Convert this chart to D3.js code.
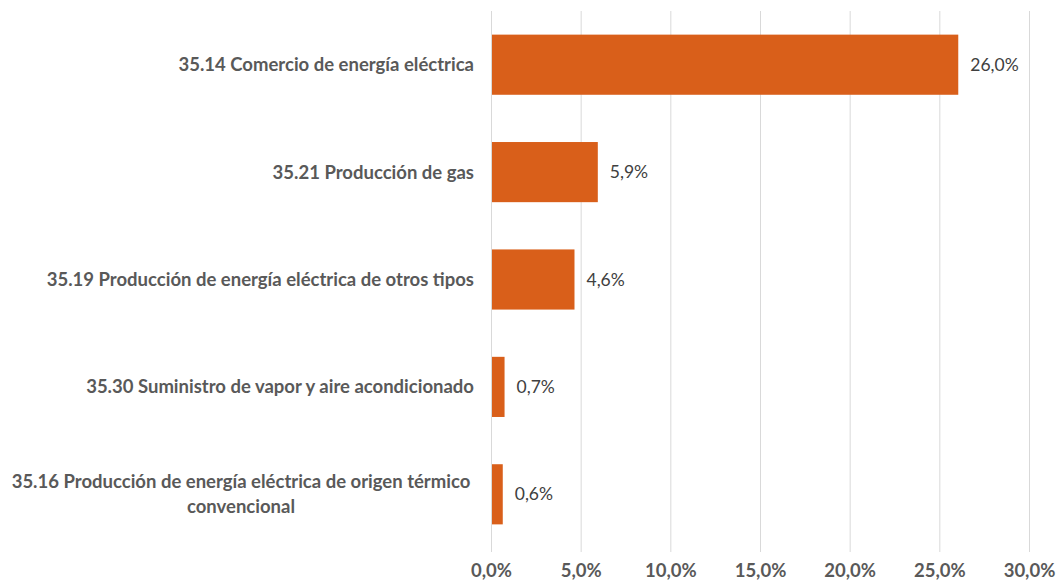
<!DOCTYPE html>
<html>
<head>
<meta charset="utf-8">
<script src="https://cdn.jsdelivr.net/npm/d3@7"></script>
<style>
  body { margin: 0; background: #fff; }
  text { font-family: Lato, "Open Sans", sans-serif; }
</style>
</head>
<body>
<svg id="chart" width="1056" height="581"></svg>
<script>
const categories = [
  ["35.14 Comercio de energía eléctrica"],
  ["35.21 Producción de gas"],
  ["35.19 Producción de energía eléctrica de otros tipos"],
  ["35.30 Suministro de vapor y aire acondicionado"],
  ["35.16 Producción de energía eléctrica de origen térmico", "convencional"]
];
const values = [26.0, 5.9, 4.6, 0.7, 0.6];
const ticks = [0, 5, 10, 15, 20, 25, 30];

const fmt = v => v.toFixed(1).replace('.', ',') + '%';

const svg = d3.select('#chart');
const margin = { top: 11, right: 27, bottom: 33, left: 491 };
const width = 1056 - margin.left - margin.right;
const height = 581 - margin.top - margin.bottom;

const x = d3.scaleLinear().domain([0, 30]).range([0, width]);
const y = d3.scaleBand()
  .domain(d3.range(categories.length))
  .range([0, height])
  .paddingInner(0.44)
  .paddingOuter(0.22);

const g = svg.append('g').attr('transform', `translate(${margin.left},${margin.top})`);

// gridlines
g.append('g')
  .selectAll('line')
  .data(ticks).enter()
  .append('line')
  .attr('x1', d => x(d) + 0.5).attr('x2', d => x(d) + 0.5)
  .attr('y1', 0).attr('y2', height + 4)
  .attr('stroke', '#d9d9d9')
  .attr('stroke-width', 1);

// bars
g.selectAll('rect.bar')
  .data(values).enter()
  .append('rect')
  .attr('class', 'bar')
  .attr('x', x(0) + 1)
  .attr('y', (d, i) => y(i))
  .attr('width', d => x(d) - x(0))
  .attr('height', y.bandwidth())
  .attr('fill', '#d95f1a');

// value labels
g.selectAll('text.val')
  .data(values).enter()
  .append('text')
  .attr('class', 'val')
  .attr('x', d => x(d) + 13)
  .attr('y', (d, i) => y(i) + y.bandwidth() / 2)
  .attr('dy', '0.35em')
  .attr('font-size', 17.5)
  .attr('fill', '#404040')
  .text(fmt);

// category labels
const cat = g.selectAll('text.cat')
  .data(categories).enter()
  .append('text')
  .attr('class', 'cat')
  .attr('font-size', 18.5)
  .attr('font-weight', 'bold')
  .attr('fill', '#595959')
  .attr('text-anchor', (d) => d.length > 1 ? 'middle' : 'end')
  .attr('transform', (d, i) => {
    const cy = y(i) + y.bandwidth() / 2;
    return d.length > 1 ? `translate(${241 - margin.left},${cy})` : `translate(-17,${cy})`;
  });

cat.selectAll('tspan')
  .data(d => d.map((s, j) => ({ s, j, n: d.length })))
  .enter()
  .append('tspan')
  .attr('x', 0)
  .attr('y', d => (d.j - (d.n - 1) / 2) * 25)
  .attr('dy', '0.35em')
  .text(d => d.s);

// x axis labels
const xAxis = d3.axisBottom(x)
  .tickValues(ticks)
  .tickSize(0)
  .tickPadding(16)
  .tickFormat(d => fmt(d));

g.append('g')
  .attr('transform', `translate(0,${height})`)
  .call(xAxis)
  .call(a => a.select('.domain').remove())
  .call(a => a.selectAll('text')
    .attr('font-family', 'Lato, sans-serif')
    .attr('font-size', 18.5)
    .attr('font-weight', 'bold')
    .attr('fill', '#595959'));
</script>
</body>
</html>
